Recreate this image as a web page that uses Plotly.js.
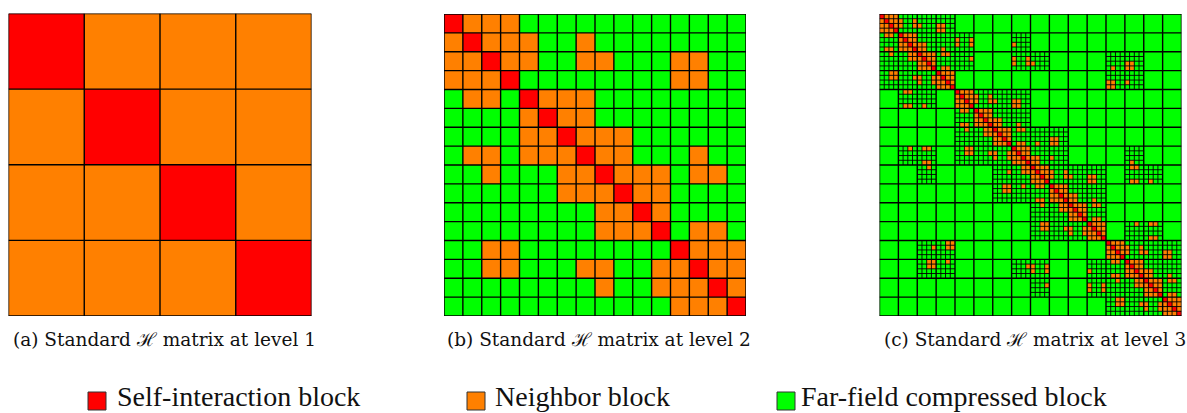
<!DOCTYPE html>
<html><head><meta charset="utf-8">
<script src="https://cdn.plot.ly/plotly-3.0.1.min.js"></script>
<style>html,body{margin:0;padding:0;background:#fff;overflow:hidden}</style>
</head><body><div id="chart" style="width:1187px;height:413px"></div>
<script>
// ---- data ----
const blockKinds = ['Self-interaction block', 'Neighbor block', 'Far-field compressed block'];
const kindCodes = ['S', 'N', 'F'];
const kindColors = ['#ff0000', '#ff8000', '#00ff00'];
const captions = ['(a) Standard \u210B matrix at level 1', '(b) Standard \u210B matrix at level 2', '(c) Standard \u210B matrix at level 3'];

// level 1: 4x4 blocks (S = self, N = neighbor, F = far-field)
const level1 = ['SNNN', 'NSNN', 'NNSN', 'NNNS'];

// level 2: 16x16 blocks
const level2 = [
  'SNNNFFFFFFFFFFFF',
  'NSNNNFFNFFFFFFFF',
  'NNSNNFFNNFFFNNFF',
  'NNNSFFFFFFFFNNFF',
  'FNNFSNNNFFFFFFFF',
  'FFFFNSNNFFFFFFFF',
  'FFFFNNSNNNFFFFFF',
  'FNNFNNNSNNFFFNFF',
  'FFNFFFNNSNNNFNNF',
  'FFFFFFNNNSNNFFFF',
  'FFFFFFFFNNSNFFFF',
  'FFFFFFFFNNNSFNNF',
  'FFNNFFFFFFFFSNNN',
  'FFNNFFFNNFFNNSNN',
  'FFFFFFFFNFFNNNSN',
  'FFFFFFFFFFFFNNNS'
];

// level 3: neighbor (orange) columns of each of the 64 rows; diagonal = self
const level3Neighbors = [
  [1,2,3],[0,2,3,4,7],[0,1,3,4,7,8,12,13],[0,1,2,12,13],
  [1,2,5,6,7],[4,6,7,16,19],[4,5,7,8,9,16,19,28],[1,2,4,5,6,8,9,13],
  [2,6,7,9,10,11,13,14],[6,7,8,10,11,19,28,31],[8,9,11,28,31,32,52,53],[8,9,10,13,14,49,52,53],
  [2,3,13,14,15],[2,3,7,8,11,12,14,15],[8,11,12,13,15,48,49,52],[12,13,14,48,49],
  [5,6,17,18,19],[16,18,19,20,23],[16,17,19,20,23,24,28,29],[5,6,9,16,17,18,28,29],
  [17,18,21,22,23],[20,22,23],[20,21,23,24,25],[17,18,20,21,22,24,25,29],
  [18,22,23,25,26,27,29,30],[22,23,24,26,27],[24,25,27,36,37],[24,25,26,29,30,33,36,37],
  [6,9,10,18,19,29,30,31],[18,19,23,24,27,28,30,31],[24,27,28,29,31,32,33,36],[9,10,28,29,30,32,33,53],
  [10,30,31,33,34,35,53,54],[27,30,31,32,34,35,36,39],[32,33,35,36,39,40,44,45],[32,33,34,44,45,53,54,57],
  [26,27,30,33,34,37,38,39],[26,27,36,38,39],[36,37,39,40,41],[33,34,36,37,38,40,41,45],
  [34,38,39,41,42,43,45,46],[38,39,40,42,43],[40,41,43],[40,41,42,45,46],
  [34,35,45,46,47,54,57,58],[34,35,39,40,43,44,46,47],[40,43,44,45,47],[44,45,46,57,58],
  [14,15,49,50,51],[11,14,15,48,50,51,52,55],[48,49,51,52,55,56,60,61],[48,49,50,60,61],
  [10,11,14,49,50,53,54,55],[10,11,31,32,35,52,54,55],[32,35,44,52,53,55,56,57],[49,50,52,53,54,56,57,61],
  [50,54,55,57,58,59,61,62],[35,44,47,54,55,56,58,59],[44,47,56,57,59],[56,57,58,61,62],
  [50,51,61,62,63],[50,51,55,56,59,60,62,63],[56,59,60,61,63],[60,61,62]
];

// ---- build ----
const W = 1187, H = 413;
const codeVal = {S: 2, N: 1, F: 0};
const cs = [[0, kindColors[2]], [0.25, kindColors[2]], [0.25, kindColors[1]], [0.75, kindColors[1]], [0.75, kindColors[0]], [1, kindColors[0]]];

function zFromStrings(rows) { return rows.map(r => r.split('').map(c => codeVal[c])); }

const z1 = zFromStrings(level1);
const z2 = zFromStrings(level2);
const n3 = level3Neighbors.length;
const z3 = [];
for (let i = 0; i < n3; i++) {
  const row = [];
  for (let j = 0; j < n3; j++) {
    const parent = level2[Math.floor(i / 4)][Math.floor(j / 4)];
    if (parent === 'F') row.push(0);
    else if (i === j) row.push(2);
    else if (level3Neighbors[i].indexOf(j) >= 0) row.push(1);
    else row.push(0);
  }
  z3.push(row);
}

function heat(z, ax) {
  return {type: 'heatmap', z: z, x0: 0.5, dx: 1, y0: 0.5, dy: 1, colorscale: cs, zmin: 0, zmax: 2,
    showscale: false, hoverinfo: 'skip', zsmooth: false, xaxis: 'x' + ax, yaxis: 'y' + ax};
}
function gridLines(n, step, ax, width) {
  const x = [], y = [];
  for (let k = 0; k <= n; k += step) {
    x.push(k, k, null); y.push(0, n, null);
    x.push(0, n, null); y.push(k, k, null);
  }
  return {type: 'scatter', mode: 'lines', x: x, y: y, line: {color: '#000', width: width},
    hoverinfo: 'skip', showlegend: false, cliponaxis: false, xaxis: 'x' + ax, yaxis: 'y' + ax};
}
function fineLines(coarse, ax, width) {
  const x = [], y = [];
  coarse.forEach((r, I) => r.split('').forEach((c, J) => {
    if (c === 'F') return;
    for (let t = 1; t < 4; t++) {
      x.push(4 * J + t, 4 * J + t, null); y.push(4 * I, 4 * I + 4, null);
      x.push(4 * J, 4 * J + 4, null); y.push(4 * I + t, 4 * I + t, null);
    }
  }));
  return {type: 'scatter', mode: 'lines', x: x, y: y, line: {color: '#000', width: width},
    hoverinfo: 'skip', showlegend: false, cliponaxis: false, xaxis: 'x' + ax, yaxis: 'y' + ax};
}

const data = [
  heat(z1, ''), gridLines(4, 1, '', 1.4),
  heat(z2, '2'), gridLines(16, 1, '2', 1.4),
  heat(z3, '3'), fineLines(level2, '3', 0.9), gridLines(64, 4, '3', 1.4)
];

const panels = [[8.5, 311.5, 13.5, 316], [444, 746, 14, 316], [879.5, 1181.5, 14, 316]];
const sizes = [4, 16, 64];
const layout = {width: W, height: H, margin: {l: 0, r: 0, t: 0, b: 0}, showlegend: false,
  paper_bgcolor: '#fff', plot_bgcolor: '#fff', shapes: [], annotations: []};
panels.forEach((p, k) => {
  const sx = k === 0 ? '' : String(k + 1);
  const ax = {visible: false, showgrid: false, zeroline: false, fixedrange: true};
  layout['xaxis' + sx] = Object.assign({}, ax, {domain: [p[0] / W, p[1] / W], range: [0, sizes[k]], anchor: 'y' + sx});
  layout['yaxis' + sx] = Object.assign({}, ax, {domain: [1 - p[3] / H, 1 - p[2] / H], range: [sizes[k], 0], anchor: 'x' + sx});
  layout.annotations.push({xref: 'paper', yref: 'paper', x: ((p[0] + p[1]) / 2 + 4) / W, y: 1 - 339 / H,
    xanchor: 'center', yanchor: 'middle', showarrow: false, text: captions[k],
    font: {family: 'DejaVu Serif', size: 18.5, color: '#111'}});
});

// legend
const legendSquares = [88, 467, 777];
const legendText = [116, 494, 800];
blockKinds.forEach((name, k) => {
  layout.shapes.push({type: 'rect', xref: 'paper', yref: 'paper', x0: legendSquares[k] / W, x1: (legendSquares[k] + 18) / W,
    y0: 1 - 410 / H, y1: 1 - 392 / H, fillcolor: kindColors[k], line: {color: '#333', width: 1}});
  layout.annotations.push({xref: 'paper', yref: 'paper', x: legendText[k] / W, y: 0,
    xanchor: 'left', yanchor: 'bottom', showarrow: false, text: name, borderpad: 0,
    font: {family: 'Liberation Serif', size: 28, color: '#111'}});
});

Plotly.newPlot('chart', data, layout, {staticPlot: true, displayModeBar: false});
</script>
</body></html>
